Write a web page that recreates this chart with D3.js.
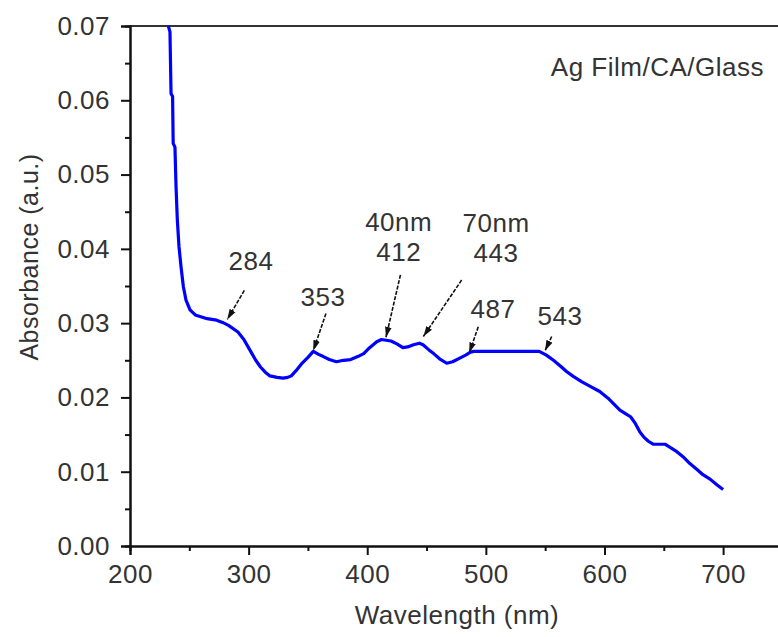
<!DOCTYPE html>
<html>
<head>
<meta charset="utf-8">
<script src="https://cdn.jsdelivr.net/npm/d3@7"></script>
<style>
  body { margin: 0; background: #fff; }
  text { font-family: "Liberation Sans", Arial, sans-serif; fill: #333; letter-spacing: 0.5px; }
</style>
</head>
<body>
<script>
// absorbance spectrum
var wavelength = [232.3, 233.7, 234.6, 235.9, 236.4, 237.9, 238.8, 239.9, 241.3, 243, 245, 247.2, 250.6, 255, 259, 265, 273, 278, 283, 291, 296, 301, 306, 310, 314, 318, 324, 329, 333, 336, 340, 345, 350, 354.5, 359, 363, 368, 374, 380, 386, 392, 397, 402, 408, 412, 416, 420, 425, 430, 434, 439, 444, 447, 452, 456, 461, 467, 472, 478, 483, 487, 490, 545, 551, 557, 563, 568, 574, 581, 588, 596, 603, 608, 613, 618, 622, 626, 630, 633, 637, 641, 646, 651, 656, 661, 667, 672, 678, 683, 689, 695, 700];
var absorbance = [0.0700, 0.0692, 0.0609, 0.0605, 0.0542, 0.0537, 0.0484, 0.0439, 0.0403, 0.0376, 0.0349, 0.0331, 0.0318, 0.0311, 0.0309, 0.0306, 0.0304, 0.0301, 0.0297, 0.0288, 0.0278, 0.0264, 0.0250, 0.0241, 0.0234, 0.0229, 0.0227, 0.0226, 0.0227, 0.0229, 0.0236, 0.0246, 0.0254, 0.0262, 0.0258, 0.0255, 0.0251, 0.0248, 0.0250, 0.0251, 0.0255, 0.0259, 0.0267, 0.0275, 0.0278, 0.0277, 0.0276, 0.0272, 0.0267, 0.0268, 0.0271, 0.0273, 0.0271, 0.0264, 0.0259, 0.0252, 0.0246, 0.0248, 0.0253, 0.0257, 0.0261, 0.0262, 0.0262, 0.0257, 0.0250, 0.0242, 0.0235, 0.0228, 0.0221, 0.0215, 0.0208, 0.0199, 0.0191, 0.0183, 0.0178, 0.0174, 0.0165, 0.0153, 0.0147, 0.0141, 0.0137, 0.0137, 0.0137, 0.0132, 0.0127, 0.0119, 0.0111, 0.0103, 0.0096, 0.0090, 0.0082, 0.0076];

var xTicks = [200, 300, 400, 500, 600, 700];
var xMinor = [250, 350, 450, 550, 650, 750];
var yTicks = [0, 0.01, 0.02, 0.03, 0.04, 0.05, 0.06, 0.07];
var yMinor = [0.005, 0.015, 0.025, 0.035, 0.045, 0.055, 0.065];

// peak labels: arrow tip, arrow tail, label anchor (nm, absorbance)
var peakLabels = [["284"], ["353"], ["40nm", "412"], ["70nm", "443"], ["487"], ["543"]];
var peakTip = [[282, 0.0305], [354.5, 0.0263], [415.8, 0.0281], [447.3, 0.0282], [486, 0.0260], [549.9, 0.0263]];
var peakTail = [[296.4, 0.0344], [365.2, 0.0313], [428, 0.0365], [479.6, 0.0358], [493.6, 0.0295], [555.5, 0.0282]];
var peakText = [[302, 0.0372], [362.7, 0.0323], [426.5, 0.0383], [508.6, 0.0382], [506, 0.0307], [562.5, 0.0298]];

var w = 778;
var h = 637;

var svg = d3.select("body")
            .append("svg")
            .attr("width", w)
            .attr("height", h);

var x = d3.scaleLinear().domain([200, 750]).range([130, 782.4]);
var y = d3.scaleLinear().domain([0, 0.07]).range([546, 26]);

svg.append("defs").append("marker")
   .attr("id", "head")
   .attr("viewBox", "0 0 10 10")
   .attr("refX", 10).attr("refY", 5)
   .attr("markerWidth", 6.5).attr("markerHeight", 6.5)
   .attr("markerUnits", "strokeWidth")
   .attr("orient", "auto")
   .append("path")
   .attr("d", "M0,1.8 L10,5 L0,8.2 Z")
   .attr("fill", "#111");

// frame
svg.append("line").attr("x1", 130).attr("x2", 782).attr("y1", y(0.07)).attr("y2", y(0.07))
   .attr("stroke", "#333").attr("stroke-width", 2);
svg.append("line").attr("x1", x(750)).attr("x2", x(750)).attr("y1", 26).attr("y2", 546)
   .attr("stroke", "#333").attr("stroke-width", 2);

function styleAxis(g) {
  g.select(".domain").attr("stroke", "#111").attr("stroke-width", 2);
  g.selectAll(".tick line").attr("stroke", "#111").attr("stroke-width", 2);
  g.selectAll("text").attr("font-size", 26).attr("fill", "#333")
   .style("font-family", "'Liberation Sans', Arial, sans-serif");
}

svg.append("g").attr("transform", "translate(0,546)")
   .call(d3.axisBottom(x).tickValues(xMinor).tickSize(5).tickFormat(""))
   .call(styleAxis);
svg.append("g").attr("transform", "translate(0,546)")
   .call(d3.axisBottom(x).tickValues(xTicks).tickSize(9).tickPadding(10).tickFormat(d3.format("d")))
   .call(styleAxis);

svg.append("g").attr("transform", "translate(130,0)")
   .call(d3.axisLeft(y).tickValues(yMinor).tickSize(5).tickFormat(""))
   .call(styleAxis);
svg.append("g").attr("transform", "translate(130,0)")
   .call(d3.axisLeft(y).tickValues(yTicks).tickSize(9).tickPadding(11).tickFormat(d3.format(".2f")))
   .call(styleAxis);

// axis titles
svg.append("text")
   .attr("x", 457).attr("y", 624)
   .attr("text-anchor", "middle").attr("font-size", 26)
   .text("Wavelength (nm)");
svg.append("text")
   .attr("transform", "translate(38,257) rotate(-90)")
   .attr("text-anchor", "middle").attr("font-size", 25)
   .text("Absorbance (a.u.)");

svg.append("text")
   .attr("x", 764).attr("y", 76)
   .attr("text-anchor", "end").attr("font-size", 26)
   .text("Ag Film/CA/Glass");

// spectrum
var line = d3.line()
             .x(function(d) { return x(d); })
             .y(function(d, i) { return y(absorbance[i]); });

svg.append("path")
   .datum(wavelength)
   .attr("d", line)
   .attr("fill", "none")
   .attr("stroke", "#0000ff")
   .attr("stroke-width", 3.2)
   .attr("stroke-linejoin", "round");

// peak arrows + labels
peakLabels.forEach(function(lines, i) {
  svg.append("line")
     .attr("x1", x(peakTail[i][0])).attr("y1", y(peakTail[i][1]))
     .attr("x2", x(peakTip[i][0])).attr("y2", y(peakTip[i][1]))
     .attr("stroke", "#111").attr("stroke-width", 1.6)
     .attr("stroke-dasharray", "4,1.5")
     .attr("marker-end", "url(#head)");

  var t = svg.append("text")
             .attr("x", x(peakText[i][0]))
             .attr("y", y(peakText[i][1]))
             .attr("text-anchor", "middle")
             .attr("font-size", 26);
  lines.forEach(function(s, j) {
    t.append("tspan")
     .attr("x", x(peakText[i][0]))
     .attr("dy", j === 0 ? (lines.length - 1) * -30 : 30)
     .text(s);
  });
});
</script>
</body>
</html>
